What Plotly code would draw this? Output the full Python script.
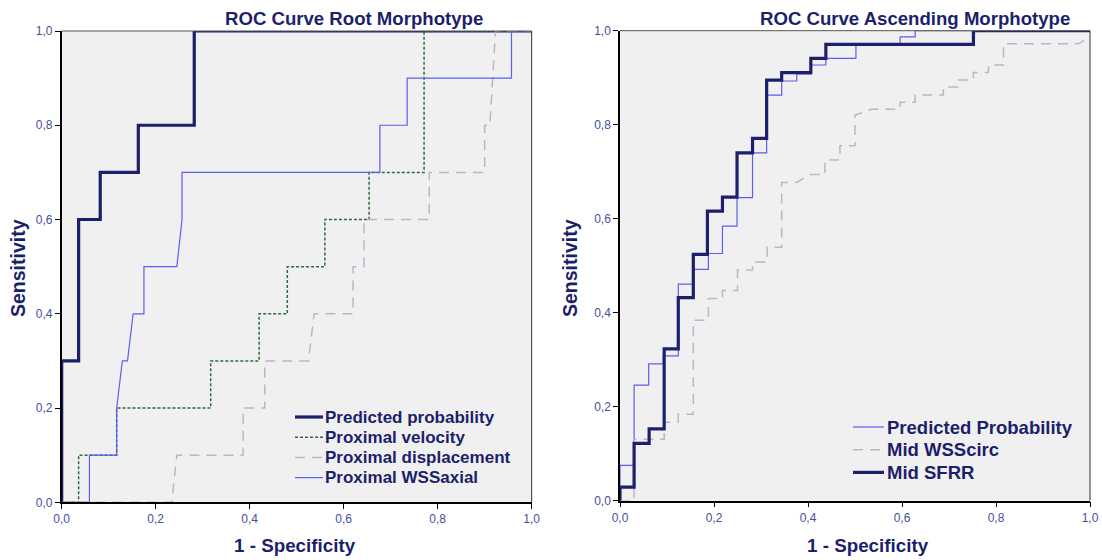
import plotly.graph_objects as go

# ---- data: ROC curve points (1 - specificity, sensitivity) ----
# Root morphotype
root_pred_fpr = [0, 0, 0.036, 0.036, 0.082, 0.082, 0.163, 0.163, 0.282, 0.282, 1.0]
root_pred_tpr = [0, 0.3, 0.3, 0.6, 0.6, 0.7, 0.7, 0.8, 0.8, 1.0, 1.0]

root_vel_fpr = [0, 0.036, 0.036, 0.117, 0.117, 0.317, 0.317, 0.42, 0.42, 0.48, 0.48,
                0.56, 0.56, 0.654, 0.654, 0.771, 0.771, 1.0]
root_vel_tpr = [0, 0, 0.1, 0.1, 0.2, 0.2, 0.3, 0.3, 0.4, 0.4, 0.5,
                0.5, 0.6, 0.6, 0.7, 0.7, 1.0, 1.0]

root_disp_fpr = [0, 0.234, 0.245, 0.386, 0.386, 0.432, 0.432, 0.525, 0.537, 0.62,
                 0.62, 0.643, 0.643, 0.782, 0.782, 0.90, 0.90, 0.911, 0.923, 1.0]
root_disp_tpr = [0, 0, 0.1, 0.1, 0.2, 0.2, 0.3, 0.3, 0.4, 0.4,
                 0.5, 0.5, 0.6, 0.6, 0.7, 0.7, 0.8, 0.8, 1.0, 1.0]

root_wss_fpr = [0, 0.059, 0.059, 0.117, 0.117, 0.129, 0.14, 0.152, 0.175, 0.175,
                0.245, 0.256, 0.256, 0.677, 0.677, 0.735, 0.735, 0.957, 0.957, 1.0]
root_wss_tpr = [0, 0, 0.1, 0.1, 0.2, 0.3, 0.3, 0.4, 0.4, 0.5,
                0.5, 0.6, 0.7, 0.7, 0.8, 0.8, 0.9, 0.9, 1.0, 1.0]

# Ascending morphotype
asc_pred_fpr = [0, 0, 0.03, 0.03, 0.061, 0.061, 0.092, 0.092, 0.124, 0.124, 0.156, 0.156,
                0.188, 0.188, 0.218, 0.218, 0.249, 0.249, 0.282, 0.282, 0.312, 0.312,
                0.344, 0.344, 0.376, 0.376, 0.406, 0.406, 0.438, 0.438, 0.502, 0.502,
                0.596, 0.596, 0.628, 0.628, 1.0]
asc_pred_tpr = [0, 0.075, 0.075, 0.246, 0.246, 0.291, 0.291, 0.308, 0.308, 0.461, 0.461, 0.492,
                0.492, 0.526, 0.526, 0.584, 0.584, 0.645, 0.645, 0.74, 0.74, 0.863,
                0.863, 0.893, 0.893, 0.908, 0.908, 0.927, 0.927, 0.941, 0.941, 0.971,
                0.971, 0.987, 0.987, 1.0, 1.0]

asc_wss_fpr = [0, 0.03, 0.03, 0.094, 0.094, 0.124, 0.124, 0.156, 0.156, 0.188,
               0.188, 0.218, 0.218, 0.25, 0.25, 0.282, 0.282, 0.313, 0.313, 0.344,
               0.344, 0.376, 0.405, 0.436, 0.436, 0.468, 0.468, 0.5, 0.5, 0.535,
               0.596, 0.596, 0.628, 0.628, 0.688, 0.688, 0.72, 0.72, 0.752, 0.752,
               0.784, 0.784, 0.816, 0.816, 0.975, 1.0]
asc_wss_tpr = [0, 0, 0.131, 0.131, 0.167, 0.167, 0.184, 0.184, 0.384, 0.384,
               0.43, 0.43, 0.447, 0.447, 0.491, 0.491, 0.508, 0.508, 0.539, 0.539,
               0.677, 0.677, 0.694, 0.694, 0.725, 0.725, 0.755, 0.755, 0.82, 0.833,
               0.833, 0.848, 0.848, 0.863, 0.863, 0.88, 0.88, 0.895, 0.895, 0.911,
               0.911, 0.927, 0.927, 0.972, 0.972, 0.987]

asc_sfrr_fpr = [0, 0, 0.03, 0.03, 0.062, 0.062, 0.094, 0.094, 0.124, 0.124,
                0.156, 0.156, 0.186, 0.186, 0.218, 0.218, 0.249, 0.249, 0.282, 0.282,
                0.312, 0.312, 0.344, 0.344, 0.406, 0.406, 0.438, 0.438, 0.752, 0.752, 1.0]
asc_sfrr_tpr = [0, 0.029, 0.029, 0.122, 0.122, 0.153, 0.153, 0.323, 0.323, 0.432,
                0.432, 0.524, 0.524, 0.616, 0.616, 0.646, 0.646, 0.74, 0.74, 0.771,
                0.771, 0.895, 0.895, 0.911, 0.911, 0.941, 0.941, 0.971, 0.971, 1.0, 1.0]

tick_vals = [0, 0.2, 0.4, 0.6, 0.8, 1.0]
tick_text = ["0,0", "0,2", "0,4", "0,6", "0,8", "1,0"]

# ---- styling ----
FONT = "Liberation Sans, Arial, sans-serif"
NAVY = "#1c1f6b"
BLUE = "#5b5ef2"
GREEN = "#2f6a3a"
MAUVE = "#c4b0cc"
TICK_COLOR = "#43509c"
W, H = 1102, 560

STYLES = {
    "thick": dict(color=NAVY, width=3.2, dash="solid"),
    "thin": dict(color=BLUE, width=1.2, dash="solid"),
    "dot": dict(color=GREEN, width=1.5, dash="3px,2px"),
    "dash": dict(color=MAUVE, width=1.5, dash="10px,7px"),
}

fig = go.Figure()

def add(x, y, style, xa, ya):
    fig.add_trace(go.Scatter(
        x=x, y=y, mode="lines", line=STYLES[style],
        xaxis=xa, yaxis=ya, showlegend=False, hoverinfo="skip"))

add(root_pred_fpr, root_pred_tpr, "thick", "x", "y")
add(root_vel_fpr, root_vel_tpr, "dot", "x", "y")
add(root_disp_fpr, root_disp_tpr, "dash", "x", "y")
add(root_wss_fpr, root_wss_tpr, "thin", "x", "y")

add(asc_pred_fpr, asc_pred_tpr, "thin", "x2", "y2")
add(asc_wss_fpr, asc_wss_tpr, "dash", "x2", "y2")
add(asc_sfrr_fpr, asc_sfrr_tpr, "thick", "x2", "y2")

# plot-area boxes in pixels (left, top, right, bottom)
left_box = (61.7, 31.0, 531.7, 502.3)
right_box = (620.0, 30.7, 1090.0, 500.7)

def xdom(b):
    return [b[0] / W, b[2] / W]

def ydom(b):
    return [1 - b[3] / H, 1 - b[1] / H]

axis_common = dict(
    range=[0, 1], tickvals=tick_vals, ticktext=tick_text, automargin=False,
    showgrid=False, zeroline=False, showline=True, linecolor="black", linewidth=1.5,
    ticks="outside", ticklen=5, tickcolor="black", tickwidth=1,
    tickfont=dict(family=FONT, size=12, color=TICK_COLOR), fixedrange=True,
)

fig.update_layout(
    width=W, height=H,
    margin=dict(l=0, r=0, t=0, b=0, autoexpand=False),
    paper_bgcolor="white", plot_bgcolor="#f0f0f0",
    font=dict(family=FONT),
    xaxis=dict(domain=xdom(left_box), anchor="y", **axis_common),
    yaxis=dict(domain=ydom(left_box), anchor="x", **axis_common),
    xaxis2=dict(domain=xdom(right_box), anchor="y2", **axis_common),
    yaxis2=dict(domain=ydom(right_box), anchor="x2", **axis_common),
    showlegend=False,
)

# thin frame on top and right edges of each plot area
for xr, yr in (("x", "y"), ("x2", "y2")):
    fig.add_shape(type="line", xref=f"{xr} domain", yref=f"{yr} domain",
                  x0=0, x1=1, y0=1, y1=1, line=dict(color="#555555", width=1))
    fig.add_shape(type="line", xref=f"{xr} domain", yref=f"{yr} domain",
                  x0=1, x1=1, y0=0, y1=1, line=dict(color="#333333", width=1))

def label(text, x, y, size, angle=0, anchor="center"):
    fig.add_annotation(
        text=text, x=x / W, y=1 - y / H, xref="paper", yref="paper",
        showarrow=False, textangle=angle, xanchor=anchor, yanchor="middle",
        font=dict(family=FONT, size=size, color=NAVY, weight="bold"))

label("ROC Curve Root Morphotype", 354, 18, 18.6)
label("ROC Curve Ascending Morphotype", 915, 18, 18.6)
label("1 - Specificity", 295, 545, 18.8)
label("1 - Specificity", 868, 545, 18.8)
label("Sensitivity", 18, 268, 19.5, -90)
label("Sensitivity", 570, 268, 19.5, -90)

# legend boxes: line sample followed by bold label
root_legend = [("Predicted probability", "thick"), ("Proximal velocity", "dot"),
               ("Proximal displacement", "dash"), ("Proximal WSSaxial", "thin")]
asc_legend = [("Predicted Probability", "thin"), ("Mid WSScirc", "dash"), ("Mid SFRR", "thick")]

def draw_legend(entries, x_line0, x_line1, x_text, y0, dy, size):
    for i, (name, style) in enumerate(entries):
        y = y0 + i * dy
        fig.add_shape(type="line", xref="paper", yref="paper",
                      x0=x_line0 / W, x1=x_line1 / W, y0=1 - y / H, y1=1 - y / H,
                      line=STYLES[style])
        label(name, x_text, y, size, anchor="left")

draw_legend(root_legend, 295, 323, 323, 417, 20.2, 17)
draw_legend(asc_legend, 853, 884, 885, 427, 22.7, 18.5)

fig.write_html("out.html")
